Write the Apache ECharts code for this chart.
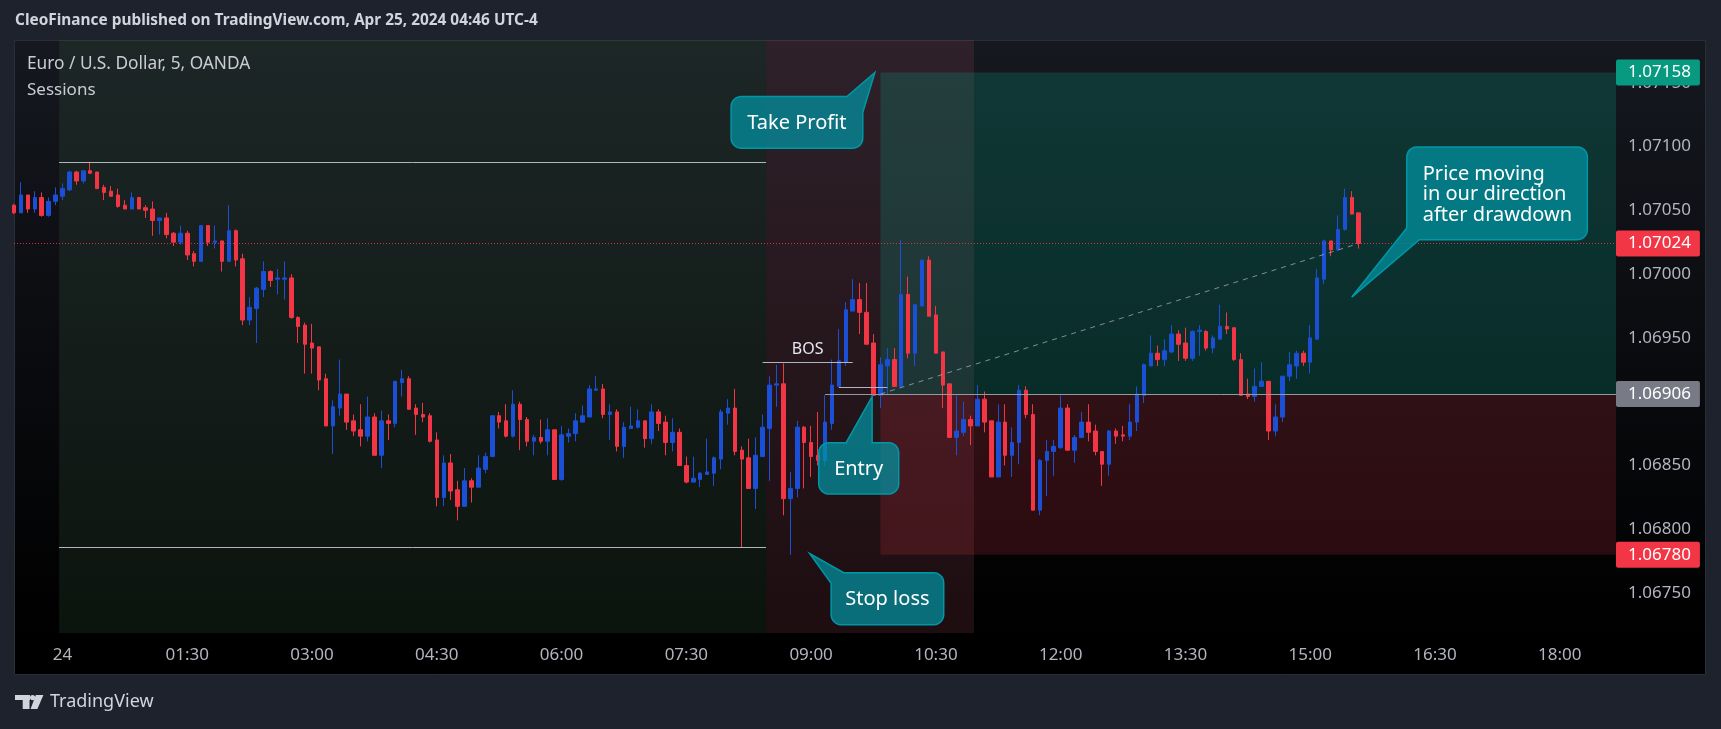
<!DOCTYPE html>
<html>
<head>
<meta charset="utf-8">
<script src="https://cdn.jsdelivr.net/npm/echarts@6/dist/echarts.min.js"></script>
<style>
html,body{margin:0;padding:0;background:#1e222d;}
#c{width:1721px;height:729px;}
</style>
</head>
<body>
<div id="c"></div>
<script>
// ================= DATA =================
// EUR/USD 5-minute bars, Apr 24 2024 (UTC-4). First bar 23:25 of the previous day.
const firstBarTime = '-00:35';          // 23:25 previous day, relative to 00:00
const barMinutes = 5;

const open = [1.07054,1.07048,1.07062,1.07051,1.07060,1.07046,1.07057,1.07061,1.07066,1.07080,
1.07073,1.07081,1.07080,1.07068,1.07065,1.07062,1.07054,1.07051,1.07060,1.07052,
1.07051,1.07042,1.07044,1.07032,1.07025,1.07032,1.07016,1.07010,1.07038,1.07025,
1.07026,1.07010,1.07034,1.07012,1.06964,1.06973,1.06988,1.07002,1.06996,1.06996,
1.06997,1.06966,1.06960,1.06946,1.06943,1.06918,1.06881,1.06895,1.06906,1.06885,
1.06878,1.06873,1.06888,1.06858,1.06885,1.06883,1.06915,1.06918,1.06895,1.06890,
1.06889,1.06870,1.06825,1.06852,1.06831,1.06818,1.06838,1.06833,1.06847,1.06857,
1.06889,1.06885,1.06873,1.06898,1.06886,1.06869,1.06872,1.06869,1.06878,1.06839,
1.06873,1.06875,1.06884,1.06888,1.06909,1.06910,1.06890,1.06892,1.06865,1.06879,
1.06880,1.06885,1.06871,1.06892,1.06884,1.06868,1.06876,1.06850,1.06837,1.06839,
1.06843,1.06844,1.06855,1.06891,1.06895,1.06862,1.06856,1.06832,1.06857,1.06879,
1.06913,1.06914,1.06824,1.06832,1.06880,1.06868,1.06858,1.06854,1.06883,1.06912,
1.06931,1.06971,1.06980,1.06970,1.06946,1.06905,1.06928,1.06933,1.06912,1.06984,
1.06938,1.06975,1.07011,1.06968,1.06939,1.06914,1.06872,1.06876,1.06886,1.06881,
1.06902,1.06885,1.06841,1.06884,1.06858,1.06868,1.06909,1.06890,1.06815,1.06854,
1.06861,1.06864,1.06895,1.06862,1.06872,1.06884,1.06877,1.06861,1.06851,1.06877,
1.06874,1.06873,1.06884,1.06905,1.06928,1.06938,1.06933,1.06939,1.06953,1.06946,
1.06934,1.06955,1.06955,1.06942,1.06949,1.06959,1.06958,1.06933,1.06906,1.06904,
1.06912,1.06916,1.06877,1.06888,1.06920,1.06928,1.06938,1.06931,1.06949,1.06996,
1.07026,1.07019,1.07035,1.07060,1.07048];

const high = [1.07055,1.07072,1.07062,1.07065,1.07064,1.07060,1.07068,1.07071,1.07081,1.07081,
1.07081,1.07088,1.07080,1.07070,1.07069,1.07067,1.07058,1.07064,1.07060,1.07054,
1.07057,1.07044,1.07048,1.07033,1.07038,1.07034,1.07018,1.07038,1.07038,1.07038,
1.07026,1.07054,1.07035,1.07016,1.06982,1.06990,1.07010,1.07003,1.07004,1.07010,
1.07000,1.06967,1.06962,1.06961,1.06943,1.06922,1.06901,1.06933,1.06906,1.06890,
1.06898,1.06904,1.06891,1.06893,1.06890,1.06916,1.06925,1.06920,1.06898,1.06899,
1.06891,1.06876,1.06858,1.06859,1.06838,1.06848,1.06840,1.06858,1.06860,1.06889,
1.06892,1.06898,1.06909,1.06900,1.06888,1.06874,1.06886,1.06887,1.06878,1.06881,
1.06879,1.06891,1.06897,1.06913,1.06920,1.06914,1.06898,1.06894,1.06884,1.06896,
1.06894,1.06885,1.06898,1.06894,1.06889,1.06887,1.06879,1.06857,1.06857,1.06845,
1.06871,1.06857,1.06894,1.06902,1.06910,1.06865,1.06871,1.06872,1.06890,1.06920,
1.06929,1.06930,1.06845,1.06885,1.06881,1.06881,1.06892,1.06905,1.06933,1.06957,
1.06978,1.06996,1.06993,1.06993,1.06953,1.06935,1.06942,1.06942,1.07027,1.06998,
1.06976,1.07011,1.07014,1.06975,1.06939,1.06914,1.06905,1.06900,1.06889,1.06913,
1.06908,1.06885,1.06898,1.06898,1.06880,1.06913,1.06912,1.06898,1.06855,1.06870,
1.06870,1.06905,1.06898,1.06874,1.06892,1.06898,1.06882,1.06861,1.06878,1.06879,
1.06881,1.06898,1.06912,1.06930,1.06952,1.06944,1.06949,1.06960,1.06956,1.06958,
1.06956,1.06960,1.06956,1.06952,1.06976,1.06970,1.06958,1.06938,1.06918,1.06926,
1.06931,1.06916,1.06898,1.06920,1.06939,1.06940,1.06940,1.06960,1.07004,1.07027,
1.07026,1.07046,1.07067,1.07065,1.07048];

const low = [1.07047,1.07048,1.07048,1.07048,1.07045,1.07045,1.07054,1.07058,1.07065,1.07070,
1.07071,1.07079,1.07067,1.07058,1.07061,1.07052,1.07051,1.07051,1.07051,1.07044,
1.07030,1.07031,1.07028,1.07022,1.07023,1.07011,1.07006,1.07010,1.07022,1.07020,
1.07002,1.07010,1.07006,1.06960,1.06960,1.06946,1.06982,1.06990,1.06984,1.06980,
1.06965,1.06946,1.06922,1.06922,1.06909,1.06881,1.06859,1.06889,1.06878,1.06873,
1.06865,1.06869,1.06858,1.06848,1.06870,1.06880,1.06904,1.06894,1.06874,1.06884,
1.06868,1.06818,1.06818,1.06823,1.06807,1.06818,1.06821,1.06833,1.06844,1.06857,
1.06879,1.06872,1.06872,1.06862,1.06865,1.06858,1.06867,1.06858,1.06839,1.06838,
1.06868,1.06869,1.06884,1.06888,1.06909,1.06887,1.06870,1.06861,1.06856,1.06879,
1.06879,1.06864,1.06867,1.06877,1.06858,1.06861,1.06850,1.06836,1.06837,1.06833,
1.06843,1.06834,1.06847,1.06882,1.06858,1.06786,1.06832,1.06816,1.06857,1.06838,
1.06896,1.06811,1.06780,1.06825,1.06832,1.06841,1.06850,1.06850,1.06878,1.06912,
1.06928,1.06971,1.06953,1.06945,1.06905,1.06895,1.06906,1.06912,1.06911,1.06934,
1.06928,1.06975,1.06967,1.06938,1.06895,1.06872,1.06858,1.06873,1.06866,1.06881,
1.06876,1.06841,1.06841,1.06850,1.06841,1.06851,1.06887,1.06815,1.06811,1.06826,
1.06842,1.06863,1.06862,1.06852,1.06872,1.06869,1.06858,1.06834,1.06842,1.06867,
1.06869,1.06870,1.06877,1.06899,1.06928,1.06928,1.06928,1.06938,1.06932,1.06932,
1.06932,1.06936,1.06940,1.06938,1.06949,1.06953,1.06932,1.06905,1.06902,1.06900,
1.06912,1.06870,1.06873,1.06884,1.06916,1.06918,1.06928,1.06922,1.06949,1.06992,
1.07014,1.07018,1.07034,1.07047,1.07020];

const close = [1.07048,1.07062,1.07051,1.07060,1.07046,1.07057,1.07062,1.07067,1.07080,1.07073,
1.07081,1.07079,1.07067,1.07064,1.07061,1.07053,1.07051,1.07060,1.07051,1.07050,
1.07042,1.07044,1.07031,1.07025,1.07032,1.07015,1.07010,1.07038,1.07025,1.07026,
1.07010,1.07034,1.07011,1.06964,1.06974,1.06989,1.07002,1.06995,1.06997,1.06997,
1.06966,1.06959,1.06945,1.06942,1.06917,1.06881,1.06896,1.06906,1.06884,1.06877,
1.06873,1.06888,1.06858,1.06885,1.06883,1.06916,1.06918,1.06894,1.06890,1.06888,
1.06869,1.06825,1.06852,1.06830,1.06818,1.06838,1.06833,1.06848,1.06857,1.06889,
1.06884,1.06873,1.06898,1.06886,1.06869,1.06872,1.06869,1.06878,1.06839,1.06874,
1.06875,1.06885,1.06889,1.06910,1.06910,1.06890,1.06892,1.06865,1.06880,1.06881,
1.06885,1.06871,1.06892,1.06883,1.06868,1.06876,1.06850,1.06837,1.06840,1.06844,
1.06845,1.06856,1.06892,1.06895,1.06861,1.06855,1.06832,1.06858,1.06880,1.06913,
1.06914,1.06824,1.06832,1.06880,1.06868,1.06857,1.06854,1.06884,1.06913,1.06932,
1.06972,1.06980,1.06970,1.06945,1.06905,1.06929,1.06933,1.06912,1.06984,1.06938,
1.06976,1.07011,1.06967,1.06938,1.06913,1.06872,1.06877,1.06886,1.06881,1.06902,
1.06884,1.06841,1.06884,1.06858,1.06868,1.06909,1.06890,1.06815,1.06854,1.06861,
1.06865,1.06895,1.06862,1.06872,1.06884,1.06876,1.06861,1.06851,1.06877,1.06873,
1.06873,1.06884,1.06906,1.06929,1.06938,1.06933,1.06940,1.06953,1.06945,1.06934,
1.06955,1.06956,1.06942,1.06950,1.06959,1.06957,1.06933,1.06905,1.06904,1.06912,
1.06916,1.06877,1.06888,1.06920,1.06929,1.06938,1.06931,1.06950,1.06997,1.07026,
1.07019,1.07035,1.07060,1.07047,1.07024];

// axis tick labels
const timeTickLabels = ['24','01:30','03:00','04:30','06:00','07:30','09:00','10:30','12:00','13:30','15:00','16:30','18:00'];
const timeTickStep = 90;      // minutes
const priceTickStep = 0.0005;

// sessions (bar times)
const sessions = [{start:'00:00', end:'08:25'}, {start:'08:30', end:'10:55'}];

// long position tool
const position = {start:'09:50', entry:1.06906, takeProfit:1.07158, stopLoss:1.06780, entryLineFrom:'09:10'};

// structure levels
const bos = {start:'08:25', end:'09:30', price:1.06931, label:'BOS'};
const swingLow = {start:'09:20', end:'09:55', price:1.06911};

// callouts (tip anchored at time/price)
const callouts = [
  {text:'Take Profit', time:'09:46', price:1.07158},
  {text:'Entry', time:'09:44', price:1.06904},
  {text:'Stop loss', time:'08:59', price:1.06781},
  {text:'Price moving\nin our direction\nafter drawdown', time:'15:30', price:1.06982}
];

const titleText = 'CleoFinance published on TradingView.com, Apr 25, 2024 04:46 UTC-4';
const symbolText = 'Euro / U.S. Dollar, 5, OANDA';
const indicatorText = 'Sessions';

// ================= HELPERS =================
function toMin(t){ const neg = t[0]==='-'; const s = neg ? t.slice(1) : t; const [h,m] = s.split(':').map(Number); const v = h*60+m; return neg ? -v : v; }
const t0 = toMin(firstBarTime);
const barTimes = open.map((_, i) => t0 + i*barMinutes);
const candleData = open.map((o, i) => [barTimes[i], o, close[i], low[i], high[i]]);
const lastTime = barTimes[barTimes.length-1];
const lastClose = close[close.length-1];
const half = barMinutes/2;

// session high / low from bars inside the first session
const s0a = toMin(sessions[0].start), s0b = toMin(sessions[0].end);
let sHigh = -Infinity, sLow = Infinity;
barTimes.forEach((t,i)=>{ if (t>=s0a && t<=s0b){ sHigh=Math.max(sHigh, high[i]); sLow=Math.min(sLow, low[i]); }});

// ================= LAYOUT / STYLE =================
const FONT = '"Noto Sans", sans-serif';
const BLUE = '#1a4fd6', RED = '#f23645';
const gridL = 14, gridT = 40, gridW = 1602, gridH = 593;
const xMin = -35, xMax = 1120.6;
const yMin = 1.0671873, yMax = 1.0718346;
const sessionColors = ['rgba(60,100,70,0.2)', 'rgba(150,70,85,0.2)'];
const HIDDEN_LINE = {color:'rgba(0,0,0,0)', width:1, type:'solid'};

function tag(text, bg){
  return {show:true, position:'end', distance:0, formatter:text, color:'#ffffff', backgroundColor:bg,
          padding:[3,9,3,12], fontSize:17, fontFamily:FONT, lineHeight:20, borderRadius:2};
}
const noLabel = {show:false};

const option = {
  backgroundColor: '#1e222d',
  animation: false,
  grid: {left:gridL, top:gridT, width:gridW, height:gridH, containLabel:false, outerBoundsMode:'none'},
  xAxis: {
    type:'value', min:xMin, max:xMax, minInterval:timeTickStep, maxInterval:timeTickStep,
    axisLine:{show:false}, axisTick:{show:false}, splitLine:{show:false},
    axisLabel:{color:'#b2b5be', fontSize:17, fontFamily:FONT, margin:14, hideOverlap:false,
      formatter: v => { const k = Math.round(v/timeTickStep); if (Math.abs(v-k*timeTickStep)>1e-6 || k<0 || k>=timeTickLabels.length) return ''; return timeTickLabels[k]; }}
  },
  yAxis: {
    type:'value', position:'right', min:yMin, max:yMax, minInterval:priceTickStep, maxInterval:priceTickStep, scale:true,
    axisLine:{show:false}, axisTick:{show:false}, splitLine:{show:false},
    axisLabel:{color:'#b2b5be', fontSize:17, fontFamily:FONT, margin:12, hideOverlap:false,
      formatter: v => { const k = Math.round(v/priceTickStep); return Math.abs(v-k*priceTickStep) < 1e-8 ? v.toFixed(5) : ''; }}
  },
  series: [
    { // sessions background + session high/low
      type:'line', data:[], silent:true, clip:false,
      markArea:{silent:true, z:1, label:noLabel,
        data: sessions.map((s,i)=>[{coord:[toMin(s.start)-half, yMin], itemStyle:{color:sessionColors[i]}}, {coord:[toMin(s.end)+half, yMax]}])},
      markLine:{silent:true, symbol:['none','none'], label:noLabel, lineStyle:{color:'#b2b5be', width:1, type:'solid'},
        data:[
          [{coord:[s0a-half, sHigh]}, {coord:[s0b+half, sHigh]}],
          [{coord:[s0a-half, sLow]}, {coord:[s0b+half, sLow]}]
        ]}
    },
    { // position tool boxes
      type:'line', data:[], silent:true, clip:false,
      markArea:{silent:true, z:1.5, label:noLabel,
        data:[
          [{coord:[toMin(position.start), position.entry], itemStyle:{color:'rgba(8,153,129,0.25)'}}, {coord:[xMax, position.takeProfit]}],
          [{coord:[toMin(position.start), position.stopLoss], itemStyle:{color:'rgba(242,54,69,0.17)'}}, {coord:[xMax, position.entry]}]
        ]}
    },
    {
      type:'candlestick', name:'EURUSD', silent:true, z:2,
      dimensions:['time','open','close','lowest','highest'],
      encode:{x:'time', y:['open','close','lowest','highest']},
      data:candleData, barWidth:4,
      itemStyle:{color:BLUE, color0:RED, borderColor:BLUE, borderColor0:RED, borderWidth:1},
      emphasis:{disabled:true}
    },
    { // lines and price tags
      type:'line', data:[], silent:true, clip:false,
      markLine:{silent:true, symbol:['none','none'], z:5, emphasis:{disabled:true},
        data:[
          [{coord:[toMin(bos.start), bos.price], lineStyle:{color:'#b2b5be', width:1, type:'solid'},
            label:{show:true, position:'insideMiddleTop', distance:5, formatter:bos.label, color:'#e6e8ee', fontSize:16, fontFamily:FONT}},
           {coord:[toMin(bos.end), bos.price]}],
          [{coord:[toMin(swingLow.start), swingLow.price], lineStyle:{color:'#b2b5be', width:1, type:'solid'}, label:noLabel},
           {coord:[toMin(swingLow.end), swingLow.price]}],
          [{coord:[toMin(position.start), position.entry], lineStyle:{color:'rgba(170,173,180,0.75)', width:1, type:[5,5]}, label:noLabel},
           {coord:[lastTime, lastClose]}],
          [{coord:[toMin(position.entryLineFrom), position.entry], lineStyle:{color:'#9598a1', width:1, type:'solid'}, label:tag(position.entry.toFixed(5), '#787b86')},
           {coord:[xMax, position.entry]}],
          [{coord:[xMin, lastClose], lineStyle:{color:'rgba(242,54,69,0.85)', width:1, type:[1,2]}, label:tag(lastClose.toFixed(5), RED)},
           {coord:[xMax, lastClose]}],
          [{coord:[toMin(position.start), position.takeProfit], lineStyle:HIDDEN_LINE, label:tag(position.takeProfit.toFixed(5), '#089981')},
           {coord:[xMax, position.takeProfit]}],
          [{coord:[toMin(position.start), position.stopLoss], lineStyle:HIDDEN_LINE, label:tag(position.stopLoss.toFixed(5), RED)},
           {coord:[xMax, position.stopLoss]}]
        ]}
    }
  ]
};

const chart = echarts.init(document.getElementById('c'), null, {renderer:'canvas', width:1721, height:729});
chart.setOption(option);

// ================= ANNOTATIONS (graphic) =================
function arcPts(cx, cy, r, a0, a1, n){ const p=[]; for(let k=0;k<=n;k++){ const a=(a0+(a1-a0)*k/n)*Math.PI/180; p.push([cx+r*Math.cos(a), cy+r*Math.sin(a)]); } return p; }
// box offsets [l,t,r,b] relative to tip, tail base points relative to tip (pixels)
const calloutLayout = [
  {box:[-143.8, 24.1, -12.1, 75.7], tail:{replace:'TR', base:[[-28, 24.1],[-12.1, 40]]}, align:'center'},
  {box:[-53.4, 46.1, 26.6, 97.4], tail:{after:'TL', base:[[-26, 46.1],[0, 46.1]]}, align:'center'},
  {box:[21.4, 19.2, 134, 71.2], tail:{replace:'TL', base:[[21.4, 29.8],[34, 19.2]]}, align:'center'},
  {box:[55, -150.1, 235.6, -57.4], tail:{replace:'BL', base:[[67.6,-57.4],[55,-69.1]]}, align:'left', padL:16}
];
const els = [];
// pane background
els.push({type:'rect', silent:true, z:-1, shape:{x:14.5, y:40.5, width:1691, height:634},
  style:{fill:new echarts.graphic.LinearGradient(0,0,0,1,[{offset:0,color:'#15181f'},{offset:0.934,color:'#000000'},{offset:1,color:'#000000'}]), stroke:'#2a2e39', lineWidth:1}});
// header texts
els.push({type:'text', z:100, silent:true, x:15, y:21, style:{text:titleText, fill:'#d1d4dc', font:'bold 15.4px '+FONT, verticalAlign:'middle', textVerticalAlign:'middle'}});
els.push({type:'text', z:100, silent:true, x:27, y:64, style:{text:symbolText, fill:'#c9ccd4', font:'17.3px '+FONT, verticalAlign:'middle', textVerticalAlign:'middle'}});
els.push({type:'text', z:100, silent:true, x:27, y:90, style:{text:indicatorText, fill:'#c9ccd4', font:'17px '+FONT, verticalAlign:'middle', textVerticalAlign:'middle'}});
// callouts
callouts.forEach((c, idx) => {
  const lay = calloutLayout[idx];
  const tip = chart.convertToPixel({gridIndex:0}, [toMin(c.time), c.price]);
  const l = tip[0]+lay.box[0], t = tip[1]+lay.box[1], r = tip[0]+lay.box[2], b = tip[1]+lay.box[3];
  const rad = 10;
  const corners = {
    TL: arcPts(l+rad, t+rad, rad, 180, 270, 6),
    TR: arcPts(r-rad, t+rad, rad, 270, 360, 6),
    BR: arcPts(r-rad, b-rad, rad, 0, 90, 6),
    BL: arcPts(l+rad, b-rad, rad, 90, 180, 6)
  };
  const tail = [[tip[0]+lay.tail.base[0][0], tip[1]+lay.tail.base[0][1]], [tip[0], tip[1]], [tip[0]+lay.tail.base[1][0], tip[1]+lay.tail.base[1][1]]];
  const pts = [];
  ['TL','TR','BR','BL'].forEach(k => {
    if (lay.tail.replace === k) pts.push(...tail); else pts.push(...corners[k]);
    if (lay.tail.after === k) pts.push(...tail);
  });
  els.push({type:'polygon', z:100, silent:true, shape:{points:pts}, style:{fill:'rgba(0,151,167,0.7)', stroke:'#0097a7', lineWidth:1.5}});
  const tx = lay.align === 'left' ? l + lay.padL : (l+r)/2;
  els.push({type:'text', z:101, silent:true, x:tx, y:(t+b)/2+1, style:{text:c.text, fill:'#ffffff', font:'20px '+FONT, lineHeight:20.5,
    align:lay.align, textAlign:lay.align, verticalAlign:'middle', textVerticalAlign:'middle'}});
});
// TradingView footer logo
els.push({type:'rect', z:100, silent:true, shape:{x:15, y:695, width:15, height:5}, style:{fill:'#d1d4dc'}});
els.push({type:'rect', z:100, silent:true, shape:{x:22.7, y:695, width:6.8, height:14}, style:{fill:'#d1d4dc'}});
els.push({type:'circle', z:100, silent:true, shape:{cx:32.6, cy:697.6, r:2.6}, style:{fill:'#d1d4dc'}});
els.push({type:'polygon', z:100, silent:true, shape:{points:[[35.8,695],[43.4,695],[37.4,709],[30.6,709]]}, style:{fill:'#d1d4dc'}});
els.push({type:'text', z:100, silent:true, x:50, y:702, style:{text:'TradingView', fill:'#d1d4dc', font:'18px '+FONT, verticalAlign:'middle', textVerticalAlign:'middle'}});

chart.setOption({graphic:{elements:els}});
</script>
</body>
</html>
